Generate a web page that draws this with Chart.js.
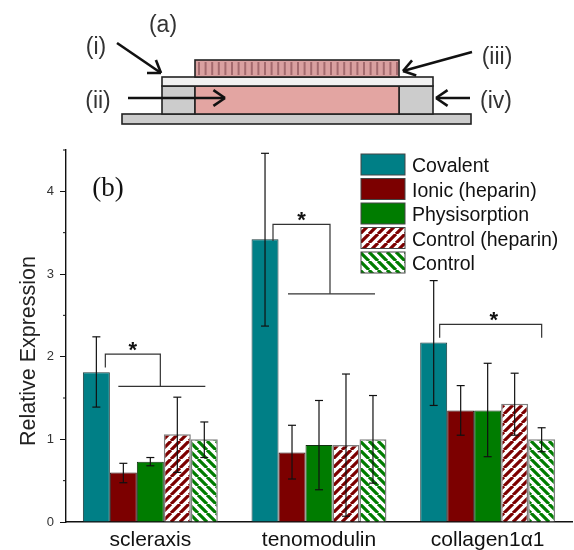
<!DOCTYPE html>
<html>
<head>
<meta charset="utf-8">
<style>
  html, body { margin: 0; padding: 0; background: #fff; }
  canvas { display: block; }
</style>
<script src="https://cdn.jsdelivr.net/npm/chart.js@4/dist/chart.umd.min.js"></script>
</head>
<body>
<canvas id="myChart" width="574" height="550"></canvas>
<script>
// chart values
const categories = ['scleraxis', 'tenomodulin', 'collagen1\u03B11'];
const seriesNames = ['Covalent', 'Ionic (heparin)', 'Physisorption', 'Control (heparin)', 'Control'];

const covalent = [1.81, 3.42, 2.17];
const ionic = [0.60, 0.84, 1.35];
const physisorption = [0.73, 0.93, 1.35];
const controlHeparin = [1.06, 0.93, 1.43];
const control = [1.00, 1.00, 1.00];

// error bar ends
const covalentErr = [[1.39, 2.24], [2.37, 4.46], [1.41, 2.92]];
const ionicErr = [[0.475, 0.71], [0.52, 1.17], [1.05, 1.65]];
const physisorptionErr = [[0.68, 0.78], [0.39, 1.47], [0.79, 1.92]];
const controlHeparinErr = [[0.60, 1.51], [0.07, 1.79], [1.05, 1.80]];
const controlErr = [[0.78, 1.21], [0.47, 1.53], [0.85, 1.14]];

const yMax = 4.5;

// hatch fill for the two control series
function hatch(color, forward) {
    const size = 9;
    const c = document.createElement('canvas');
    c.width = size;
    c.height = size;
    const g = c.getContext('2d');
    g.fillStyle = '#fff';
    g.fillRect(0, 0, size, size);
    g.strokeStyle = color;
    g.lineWidth = 3.2;
    g.beginPath();
    for (let i = -size; i <= size * 2; i += size) {
        if (forward) {
            g.moveTo(i, size);
            g.lineTo(i + size, 0);
        } else {
            g.moveTo(i, 0);
            g.lineTo(i + size, size);
        }
    }
    g.stroke();
    return g.createPattern(c, 'repeat');
}

const fills = ['#007f86', '#7c0000', '#007c00', hatch('#7c0000', true), hatch('#007c00', false)];
const borders = ['#1c3a3c', '#2a1010', '#103010', '#808080', '#808080'];
const seriesValues = [covalent, ionic, physisorption, controlHeparin, control];
const seriesErrors = [covalentErr, ionicErr, physisorptionErr, controlHeparinErr, controlErr];

function line(ctx, x1, y1, x2, y2) {
    ctx.beginPath();
    ctx.moveTo(x1, y1);
    ctx.lineTo(x2, y2);
    ctx.stroke();
}

function arrow(ctx, x1, y1, x2, y2) {
    const a = Math.atan2(y2 - y1, x2 - x1);
    const head = 14;
    ctx.strokeStyle = '#111';
    ctx.lineWidth = 2.6;
    line(ctx, x1, y1, x2, y2);
    line(ctx, x2, y2, x2 - head * Math.cos(a - 0.6), y2 - head * Math.sin(a - 0.6));
    line(ctx, x2, y2, x2 - head * Math.cos(a + 0.6), y2 - head * Math.sin(a + 0.6));
}

// panel (a), the layered device sketch above the chart
function drawSketch(ctx) {
    ctx.save();
    ctx.strokeStyle = '#222';
    ctx.lineWidth = 1.6;

    ctx.fillStyle = '#cccccc';
    ctx.fillRect(122, 114, 349, 10);
    ctx.strokeRect(122, 114, 349, 10);

    ctx.fillRect(162, 86, 33, 28);
    ctx.strokeRect(162, 86, 33, 28);
    ctx.fillRect(399, 86, 34, 28);
    ctx.strokeRect(399, 86, 34, 28);

    ctx.fillStyle = '#e3a5a2';
    ctx.fillRect(195, 86, 204, 28);
    ctx.strokeRect(195, 86, 204, 28);

    ctx.fillStyle = '#f1f1f1';
    ctx.fillRect(162, 77, 271, 9);
    ctx.strokeRect(162, 77, 271, 9);

    ctx.fillStyle = '#d9a0a0';
    ctx.fillRect(195, 60, 204, 17);
    ctx.strokeStyle = '#a36a6e';
    ctx.lineWidth = 2;
    for (let x = 199; x < 399; x += 6.6) {
        line(ctx, x, 62, x, 75);
    }
    ctx.strokeStyle = '#222';
    ctx.lineWidth = 1.6;
    ctx.strokeRect(195, 60, 204, 17);

    arrow(ctx, 117, 43, 161, 73);
    arrow(ctx, 128, 98, 225, 98);
    arrow(ctx, 472, 52, 403, 71);
    arrow(ctx, 470, 98, 436, 98);

    ctx.fillStyle = '#333';
    ctx.font = '23px "Liberation Sans"';
    ctx.textAlign = 'center';
    ctx.textBaseline = 'middle';
    ctx.fillText('(a)', 163, 26);
    ctx.fillText('(i)', 96, 48);
    ctx.fillText('(ii)', 98, 102);
    ctx.fillText('(iii)', 497, 58);
    ctx.fillText('(iv)', 496, 102);
    ctx.restore();
}

function drawLegend(ctx) {
    ctx.save();
    ctx.font = '19.5px "Liberation Sans"';
    ctx.textAlign = 'left';
    ctx.textBaseline = 'middle';
    seriesNames.forEach((name, i) => {
        const y = 154 + i * 24.5;
        ctx.fillStyle = fills[i];
        ctx.fillRect(361, y, 44, 21);
        ctx.strokeStyle = '#444';
        ctx.lineWidth = 1;
        ctx.strokeRect(361, y, 44, 21);
        ctx.fillStyle = '#111';
        ctx.fillText(name, 412, y + 13);
    });
    ctx.restore();
}

// significance brackets: x is pixels from the group centre, y is in axis units
function bracket(chart, group, xs, ys, barX, barY) {
    const ctx = chart.ctx;
    const cx = chart.scales.x.getPixelForValue(group);
    const py = v => chart.scales.y.getPixelForValue(v);
    ctx.strokeStyle = '#333';
    ctx.lineWidth = 1.2;
    ctx.beginPath();
    ctx.moveTo(cx + xs[0], py(ys[0]));
    ctx.lineTo(cx + xs[0], py(ys[1]));
    ctx.lineTo(cx + xs[1], py(ys[1]));
    ctx.lineTo(cx + xs[1], py(ys[2]));
    ctx.stroke();
    if (barX) {
        line(ctx, cx + barX[0], py(barY), cx + barX[1], py(barY));
    }
    ctx.fillStyle = '#111';
    ctx.font = 'bold 22px "Liberation Sans"';
    ctx.textAlign = 'center';
    ctx.textBaseline = 'middle';
    ctx.fillText('*', cx + (xs[0] + xs[1]) / 2 + (barX ? 0 : 3), py(ys[1]) - 3);
}

const overlay = {
    id: 'overlay',
    afterDatasetsDraw(chart) {
        const ctx = chart.ctx;
        const yScale = chart.scales.y;
        ctx.save();

        // error bars, one per bar element
        ctx.strokeStyle = '#111';
        ctx.lineWidth = 1.2;
        seriesErrors.forEach((errs, s) => {
            chart.getDatasetMeta(s).data.forEach((bar, i) => {
                const lo = yScale.getPixelForValue(errs[i][0]);
                const hi = yScale.getPixelForValue(errs[i][1]);
                line(ctx, bar.x, lo, bar.x, hi);
                line(ctx, bar.x - 4, lo, bar.x + 4, lo);
                line(ctx, bar.x - 4, hi, bar.x + 4, hi);
            });
        });

        // short minor ticks on the half units
        ctx.strokeStyle = '#111';
        ctx.lineWidth = 1;
        yScale.ticks.forEach(t => {
            if (t.value % 1 !== 0) {
                const y = yScale.getPixelForValue(t.value);
                line(ctx, chart.chartArea.left - 3, y, chart.chartArea.left, y);
            }
        });

        bracket(chart, 0, [-45, 10], [1.87, 2.03, 1.64], [-32, 55], 1.64);
        bracket(chart, 1, [-46, 11], [3.4, 3.6, 2.76], [-31, 56], 2.76);
        bracket(chart, 2, [-48, 54], [2.23, 2.39, 2.23]);

        ctx.fillStyle = '#111';
        ctx.font = '27px "Liberation Serif"';
        ctx.textAlign = 'center';
        ctx.textBaseline = 'middle';
        ctx.fillText('(b)', 108, 189);

        ctx.save();
        ctx.translate(29, 351);
        ctx.rotate(-Math.PI / 2);
        ctx.fillStyle = '#222';
        ctx.font = '21.5px "Liberation Sans"';
        ctx.fillText('Relative Expression', 0, 0);
        ctx.restore();

        drawSketch(ctx);
        drawLegend(ctx);
        ctx.restore();
    }
};

const ctx = document.getElementById('myChart').getContext('2d');

new Chart(ctx, {
    type: 'bar',
    data: {
        labels: categories,
        datasets: seriesNames.map((name, i) => ({
            label: name,
            data: seriesValues[i],
            backgroundColor: fills[i],
            borderColor: borders[i],
            borderWidth: i > 2 ? 1.5 : 1
        }))
    },
    plugins: [overlay],
    options: {
        responsive: false,
        animation: false,
        layout: { padding: { top: 150, right: 2, left: 0, bottom: 0 } },
        datasets: { bar: { categoryPercentage: 0.8, barPercentage: 1 } },
        plugins: {
            legend: { display: false },
            tooltip: { enabled: false }
        },
        scales: {
            x: {
                afterFit(scale) { scale.height = 28; },
                grid: { display: false, drawTicks: false },
                border: { color: '#111', width: 1.6 },
                ticks: {
                    color: '#111',
                    padding: 6,
                    maxRotation: 0,
                    font: { family: '"Liberation Sans"', size: 21 }
                }
            },
            y: {
                min: 0,
                max: yMax,
                afterFit(scale) { scale.width = 66; },
                grid: {
                    drawOnChartArea: false,
                    tickLength: 6,
                    tickColor: c => (c.tick.value % 1 === 0 ? '#111' : 'rgba(0,0,0,0)')
                },
                border: { color: '#111', width: 1.4 },
                ticks: {
                    stepSize: 0.5,
                    color: '#333',
                    padding: 6,
                    font: { family: '"Liberation Sans"', size: 13 },
                    callback: v => (v % 1 === 0 ? v : '')
                }
            }
        }
    }
});
</script>
</body>
</html>
